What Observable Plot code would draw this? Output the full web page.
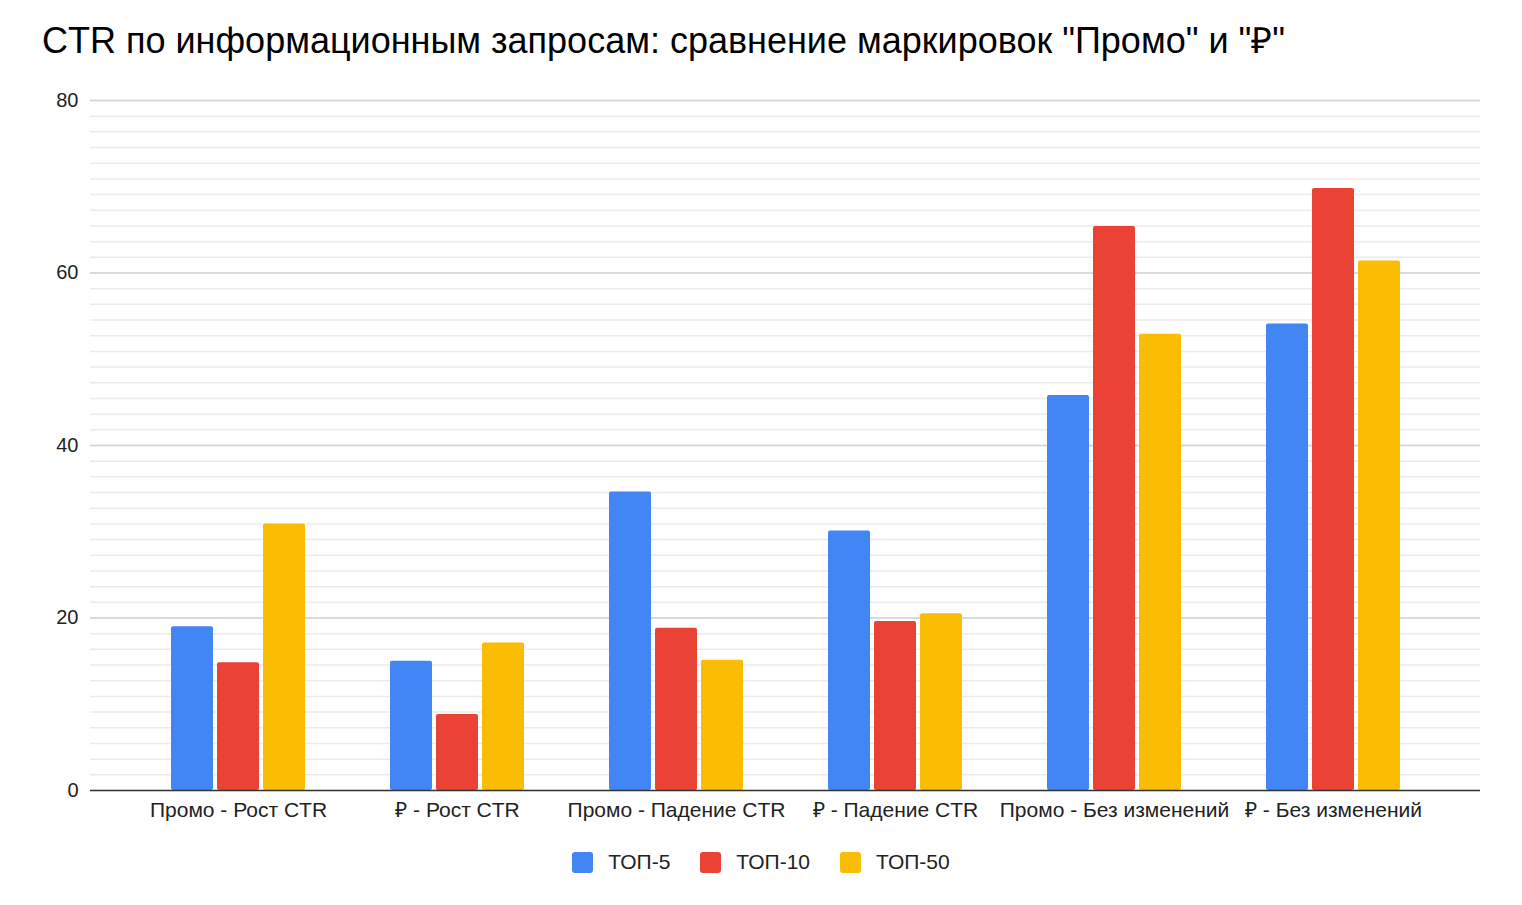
<!DOCTYPE html>
<html>
<head>
<meta charset="utf-8">
<script src="https://cdn.jsdelivr.net/npm/d3@7"></script>
<script src="https://cdn.jsdelivr.net/npm/@observablehq/plot@0.6"></script>
<style>
  body { margin: 0; background: #fff; font-family: "Liberation Sans", Arial, sans-serif; }
  #title { position: absolute; left: 42px; top: 15px; font-size: 36px; color: #000; white-space: nowrap; }
  #chart { position: absolute; left: 0; top: 80px; width: 1522px; height: 750px; }
  #chart svg { position: absolute; left: 0; top: 0; }
  #legend { position: absolute; top: 850px; left: 0; width: 1522px; display: flex; justify-content: center; gap: 30px; font-size: 21px; color: #222; }
  .item { display: flex; align-items: center; gap: 15px; }
  .swatch { width: 21px; height: 21px; border-radius: 3px; }
</style>
</head>
<body>
<div id="title">CTR по информационным запросам: сравнение маркировок "Промо" и "₽"</div>
<div id="chart"></div>
<div id="legend"></div>
<script>
// Groups of queries along the x axis
const categories = [
  "Промо - Рост CTR",
  "₽ - Рост CTR",
  "Промо - Падение CTR",
  "₽ - Падение CTR",
  "Промо - Без изменений",
  "₽ - Без изменений"
];
// Position buckets (series)
const series = ["ТОП-5", "ТОП-10", "ТОП-50"];
// CTR values per bucket, one per category
const top5  = [19.0, 15.0, 34.6, 30.1, 45.8, 54.1];
const top10 = [14.8,  8.8, 18.8, 19.6, 65.4, 69.8];
const top50 = [30.9, 17.1, 15.1, 20.5, 52.9, 61.4];
const colors = ["#4285F4", "#EA4335", "#FBBC04"];
// Labelled y ticks
const majorTicks = [0, 20, 40, 60, 80];
// Ten minor gridlines between each pair of labelled ticks
const minorTicks = d3.range(0, 4 * 11 + 1).map(i => i * 20 / 11).filter(v => v <= 80);

const rows = categories.flatMap((category, i) =>
  [top5, top10, top50].map((vals, j) => ({category, series: series[j], value: vals[i]}))
);

// Shared frame settings so all layers line up exactly
const frame = {
  width: 1522,
  height: 750,
  marginTop: 20,
  marginBottom: 40,
  marginLeft: 90,
  marginRight: 42,
  style: { fontFamily: "'Liberation Sans', Arial, sans-serif", fontSize: "21px", color: "#222", background: "transparent" }
};
const yScale = { domain: [0, 80], ticks: majorTicks, label: null, tickSize: 0, tickPadding: 12 };

// Back layer: gridlines spanning the whole plot, plus the y axis
const grid = Plot.plot({
  ...frame,
  style: { ...frame.style, fontSize: "20px" },
  y: yScale,
  marks: [
    Plot.ruleY(minorTicks, { stroke: "#ebebeb", strokeWidth: 1.5 }),
    Plot.ruleY(majorTicks.slice(1), { stroke: "#d3d3d3", strokeWidth: 1.5 })
  ]
});

// Front layer: grouped bars faceted by category
const bars = Plot.plot({
  ...frame,
  fx: { domain: categories, paddingInner: 0.38, paddingOuter: 0.357, label: null, tickSize: 0, tickPadding: 12 },
  x: { domain: series, paddingInner: 0.08, paddingOuter: 0, axis: null },
  y: { ...yScale, axis: null },
  color: { domain: series, range: colors },
  marks: [
    Plot.barY(rows, { fx: "category", x: "series", y: "value", fill: "series", rx: 2 })
  ]
});

// Top layer: baseline at zero
const base = Plot.plot({
  ...frame,
  y: { ...yScale, axis: null },
  marks: [Plot.ruleY([0], { stroke: "#333", strokeWidth: 1.5 })]
});

const holder = document.getElementById("chart");
holder.append(grid, bars, base);

const legend = document.getElementById("legend");
series.forEach((s, i) => {
  const item = document.createElement("div");
  item.className = "item";
  const sw = document.createElement("div");
  sw.className = "swatch";
  sw.style.background = colors[i];
  const label = document.createElement("span");
  label.textContent = s;
  item.append(sw, label);
  legend.appendChild(item);
});
</script>
</body>
</html>
